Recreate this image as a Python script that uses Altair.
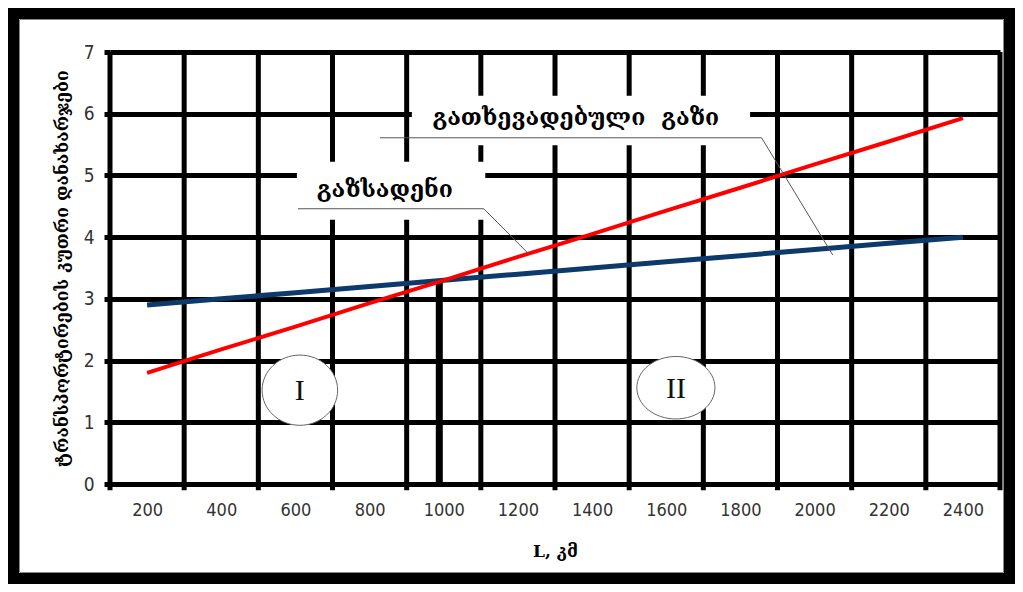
import altair as alt
import pandas as pd

# ---- data ----
L_km = [200, 400, 600, 800, 1000, 1200, 1400, 1600, 1800, 2000, 2200, 2400]
pipeline_cost = [1.80, 2.18, 2.55, 2.93, 3.30, 3.68, 4.05, 4.43, 4.80, 5.18, 5.55, 5.93]   # red
lng_cost = [2.90, 3.00, 3.10, 3.20, 3.30, 3.40, 3.50, 3.60, 3.70, 3.80, 3.90, 4.00]        # blue
y_ticks = [0, 1, 2, 3, 4, 5, 6, 7]
cat_bounds = [100, 300, 500, 700, 900, 1100, 1300, 1500, 1700, 1900, 2100, 2300, 2500]

# break-even marker
marker_x = [988]
marker_y = [3.30]

# annotation texts & anchors (data units)
lbl_lng = "გათხევადებული\u00a0 გაზი"
lbl_pipe = "გაზსადენი"
lbl_pos_x = [1356, 841]
lbl_pos_y = [5.93, 4.77]
# white boxes behind labels
box_x = [914, 604]
box_x2 = [1826, 1112]
box_y = [5.49, 4.28]
box_y2 = [6.29, 5.22]
# leader lines
lead_lng_x = [828, 1857, 2049]
lead_lng_y = [5.61, 5.61, 3.71]
lead_pipe_x = [607, 1108, 1232]
lead_pipe_y = [4.46, 4.46, 3.71]
# region ellipses
zone_text = ["I", "II"]
zone_x = [612, 1626]
zone_y = [1.52, 1.56]

y_title = "ტრანსპორტირების კუთრი დანახარჯები"
x_title = "L, კმ"

NUM_FONT = "DejaVu Sans Condensed, Liberation Sans Narrow, Arial Narrow, sans-serif"
GEO_FONT = "DejaVu Serif"

xs = alt.Scale(domain=[100, 2500], nice=False, zero=False)
ys = alt.Scale(domain=[0, 7], nice=False, zero=True)

x_axis = alt.Axis(values=L_km, format="d", grid=False, ticks=False, domain=False,
                  labelFont=NUM_FONT, labelFontSize=18, labelColor="#333",
                  labelPadding=17, titleFont=GEO_FONT, titleFontSize=17,
                  titleFontWeight="bold", titlePadding=24, titleColor="#000")
y_axis = alt.Axis(values=y_ticks, grid=True, gridColor="#000", gridWidth=5,
                  gridOpacity=1, ticks=True, tickColor="#000", tickSize=6,
                  tickWidth=5, domain=False, labelFont=NUM_FONT,
                  labelFontSize=19, labelColor="#333", labelPadding=10,
                  titleFont=GEO_FONT, titleFontSize=17.5, titleFontWeight="bold",
                  titleColor="#000", titleX=-48, titleY=216,
                  titleAngle=270, titleAlign="center", titleBaseline="middle")


def X(f):
    return alt.X(f, scale=xs, axis=x_axis, title=x_title)


def Y(f):
    return alt.Y(f, scale=ys, axis=y_axis, title=y_title)


series = pd.DataFrame({
    "L": L_km * 2,
    "v": pipeline_cost + lng_cost,
    "s": ["pipe"] * 12 + ["lng"] * 12,
})

vgrid = alt.Chart(pd.DataFrame({"b": cat_bounds, "y0": [-0.1] * 13, "y1": [7] * 13})).mark_rule(
    color="#000", strokeWidth=5, clip=False
).encode(x=X("b:Q"), y=Y("y0:Q"), y2="y1:Q")

boxes = alt.Chart(pd.DataFrame({"x": box_x, "x2": box_x2, "y": box_y, "y2": box_y2})).mark_rect(
    color="white"
).encode(x=X("x:Q"), x2="x2:Q", y=Y("y:Q"), y2="y2:Q")

marker = alt.Chart(pd.DataFrame({"x": marker_x, "y0": [0], "y1": marker_y})).mark_rule(
    color="#000", strokeWidth=7
).encode(x=X("x:Q"), y=Y("y0:Q"), y2="y1:Q")

blue = alt.Chart(series[series.s == "lng"]).mark_line(color="#0d3a6b", strokeWidth=5).encode(
    x=X("L:Q"), y=Y("v:Q"))
red = alt.Chart(series[series.s == "pipe"]).mark_line(color="#ff0000", strokeWidth=4).encode(
    x=X("L:Q"), y=Y("v:Q"))

leaders = alt.Chart(pd.DataFrame({
    "x": lead_lng_x + lead_pipe_x,
    "y": lead_lng_y + lead_pipe_y,
    "g": ["a"] * 3 + ["b"] * 3,
    "o": [0, 1, 2] * 2,
})).mark_line(color="#555", strokeWidth=1).encode(
    x=X("x:Q"), y=Y("y:Q"), detail="g:N", order="o:Q")

labels = alt.Chart(pd.DataFrame({"t": [lbl_lng, lbl_pipe], "x": lbl_pos_x, "y": lbl_pos_y})).mark_text(
    font=GEO_FONT, fontSize=23, fontWeight="bold", color="#000", align="center", baseline="middle"
).encode(x=X("x:Q"), y=Y("y:Q"), text="t:N")

ell1 = alt.Chart(pd.DataFrame({"x": zone_x[:1], "y": zone_y[:1]})).mark_point(
    shape="M -1 0 A 1 0.93 0 1 0 1 0 A 1 0.93 0 1 0 -1 0 Z", size=5700,
    filled=True, fill="white", stroke="#666", strokeWidth=1, opacity=1
).encode(x=X("x:Q"), y=Y("y:Q"))
ell2 = alt.Chart(pd.DataFrame({"x": zone_x[1:], "y": zone_y[1:]})).mark_point(
    shape="M -1 0 A 1 0.8 0 1 0 1 0 A 1 0.8 0 1 0 -1 0 Z", size=6100,
    filled=True, fill="white", stroke="#666", strokeWidth=1, opacity=1
).encode(x=X("x:Q"), y=Y("y:Q"))
zones = alt.Chart(pd.DataFrame({"t": zone_text, "x": zone_x, "y": zone_y})).mark_text(
    font="Liberation Serif", fontSize=30, color="#111", align="center", baseline="middle", dy=1
).encode(x=X("x:Q"), y=Y("y:Q"), text="t:N")

one = pd.DataFrame({"k": [0]})
frame = alt.Chart(one).mark_rect(fill=None, stroke="#000", strokeWidth=11, clip=False).encode(
    x=alt.value(-96.5), x2=alt.value(899.5), y=alt.value(-38.5), y2=alt.value(526.5))
frame_in = alt.Chart(one).mark_rect(fill=None, stroke="#888", strokeWidth=1, clip=False).encode(
    x=alt.value(-90.5), x2=alt.value(893.5), y=alt.value(-32.5), y2=alt.value(520.5))

chart = alt.layer(
    vgrid, boxes, marker, blue, red, leaders, labels, ell1, ell2, zones, frame, frame_in
).properties(
    width=890, height=432,
    autosize=alt.AutoSizeParams(type="none"),
    padding={"left": 102, "top": 44, "right": 15, "bottom": 100},
    background="white",
).configure_view(stroke=None)

chart.save("out.html", embed_options={"renderer": "svg", "actions": False})
